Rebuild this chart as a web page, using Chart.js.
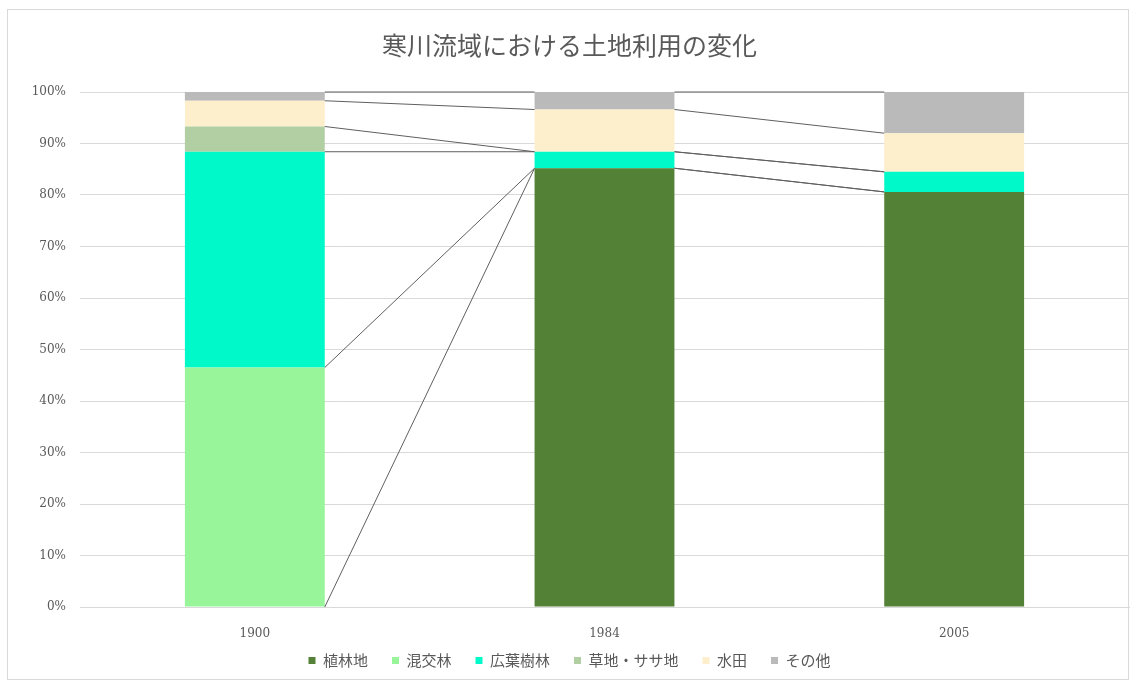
<!DOCTYPE html>
<html lang="ja">
<head>
<meta charset="utf-8">
<title>寒川流域における土地利用の変化</title>
<script src="https://cdn.jsdelivr.net/npm/chart.js@4.4.1/dist/chart.umd.min.js"></script>
<style>
    html, body { margin: 0; padding: 0; background: #fff; }
    #wrap { position: relative; width: 1133px; height: 684px; }
    #frame {
        position: absolute; left: 7px; top: 9px; width: 1122px; height: 671px;
        border: 1px solid #d9d9d9; box-sizing: border-box; pointer-events: none;
    }
    canvas { position: absolute; left: 0; top: 0; }
</style>
</head>
<body>
<div id="wrap">
    <canvas id="landUseChart" width="1133" height="684"></canvas>
    <div id="frame"></div>
</div>
<script>
// Land use share (%) per survey year
const years = ['1900', '1984', '2005'];
const plantation = [0, 85.2, 80.6];      // 植林地
const mixedForest = [46.5, 0, 0];        // 混交林
const broadleaf = [41.9, 3.2, 3.9];      // 広葉樹林
const grassland = [4.9, 0, 0];           // 草地・ササ地
const paddy = [5.0, 8.2, 7.5];           // 水田
const other = [1.7, 3.4, 8.0];           // その他
const yTicks = [0, 10, 20, 30, 40, 50, 60, 70, 80, 90, 100];

const textColor = '#595959';
const jpFont = "'Noto Sans CJK JP', 'Noto Sans', sans-serif";
const numFont = "'DejaVu Serif', 'Liberation Serif', serif";

// Excel-style series lines joining the top of each stacked segment
const seriesLines = {
    id: 'seriesLines',
    afterDatasetsDraw(chart) {
        const ctx = chart.ctx;
        ctx.save();
        ctx.strokeStyle = '#5f5f5f';
        ctx.lineWidth = 1;
        chart.data.datasets.forEach((ds, i) => {
            const bars = chart.getDatasetMeta(i).data;
            for (let j = 0; j < bars.length - 1; j++) {
                const a = bars[j], b = bars[j + 1];
                ctx.beginPath();
                ctx.moveTo(a.x + a.width / 2, a.y);
                ctx.lineTo(b.x - b.width / 2, b.y);
                ctx.stroke();
            }
        });
        ctx.restore();
    }
};

// Pull the legend row a little closer to the axis labels
const legendNudge = {
    id: 'legendNudge',
    afterLayout(chart) {
        if (chart.legend) {
            chart.legend.top -= 12;
            chart.legend.bottom -= 12;
        }
    }
};

const ctx = document.getElementById('landUseChart');
new Chart(ctx, {
    type: 'bar',
    data: {
        labels: years,
        datasets: [
            { label: '植林地', data: plantation, backgroundColor: '#538135' },
            { label: '混交林', data: mixedForest, backgroundColor: '#98f59a' },
            { label: '広葉樹林', data: broadleaf, backgroundColor: '#00f9c9' },
            { label: '草地・ササ地', data: grassland, backgroundColor: '#b2cfa3' },
            { label: '水田', data: paddy, backgroundColor: '#fdefcb' },
            { label: 'その他', data: other, backgroundColor: '#bababa' }
        ]
    },
    options: {
        responsive: false,
        animation: false,
        layout: { padding: { left: 10, right: 4, top: 0, bottom: 3 } },
        datasets: {
            bar: { barPercentage: 1, categoryPercentage: 0.4, borderWidth: 0 }
        },
        plugins: {
            title: {
                display: true,
                text: '寒川流域における土地利用の変化',
                color: textColor,
                font: { family: jpFont, size: 25, weight: 'normal', lineHeight: 1.2 },
                padding: { top: 30, bottom: 32 }
            },
            legend: {
                position: 'bottom',
                maxHeight: 40,
                labels: {
                    color: textColor,
                    font: { family: jpFont, size: 15 },
                    boxWidth: 7,
                    boxHeight: 7,
                    padding: 24
                }
            },
            tooltip: { enabled: false }
        },
        scales: {
            x: {
                stacked: true,
                grid: { display: false, drawTicks: false },
                border: { display: true, color: '#d9d9d9' },
                ticks: { color: textColor, font: { family: numFont, size: 12 }, padding: 20 },
                afterFit(scale) { scale.height = 34; }
            },
            y: {
                stacked: true,
                min: 0,
                max: 100,
                afterBuildTicks(scale) { scale.ticks = yTicks.map(v => ({ value: v })); },
                grid: { color: '#d9d9d9', drawTicks: false },
                border: { display: false },
                ticks: {
                    color: textColor,
                    font: { family: numFont, size: 12 },
                    padding: 14,
                    callback: v => v + '%'
                },
                afterFit(scale) { scale.width = 70; }
            }
        }
    },
    plugins: [seriesLines, legendNudge]
});
</script>
</body>
</html>
